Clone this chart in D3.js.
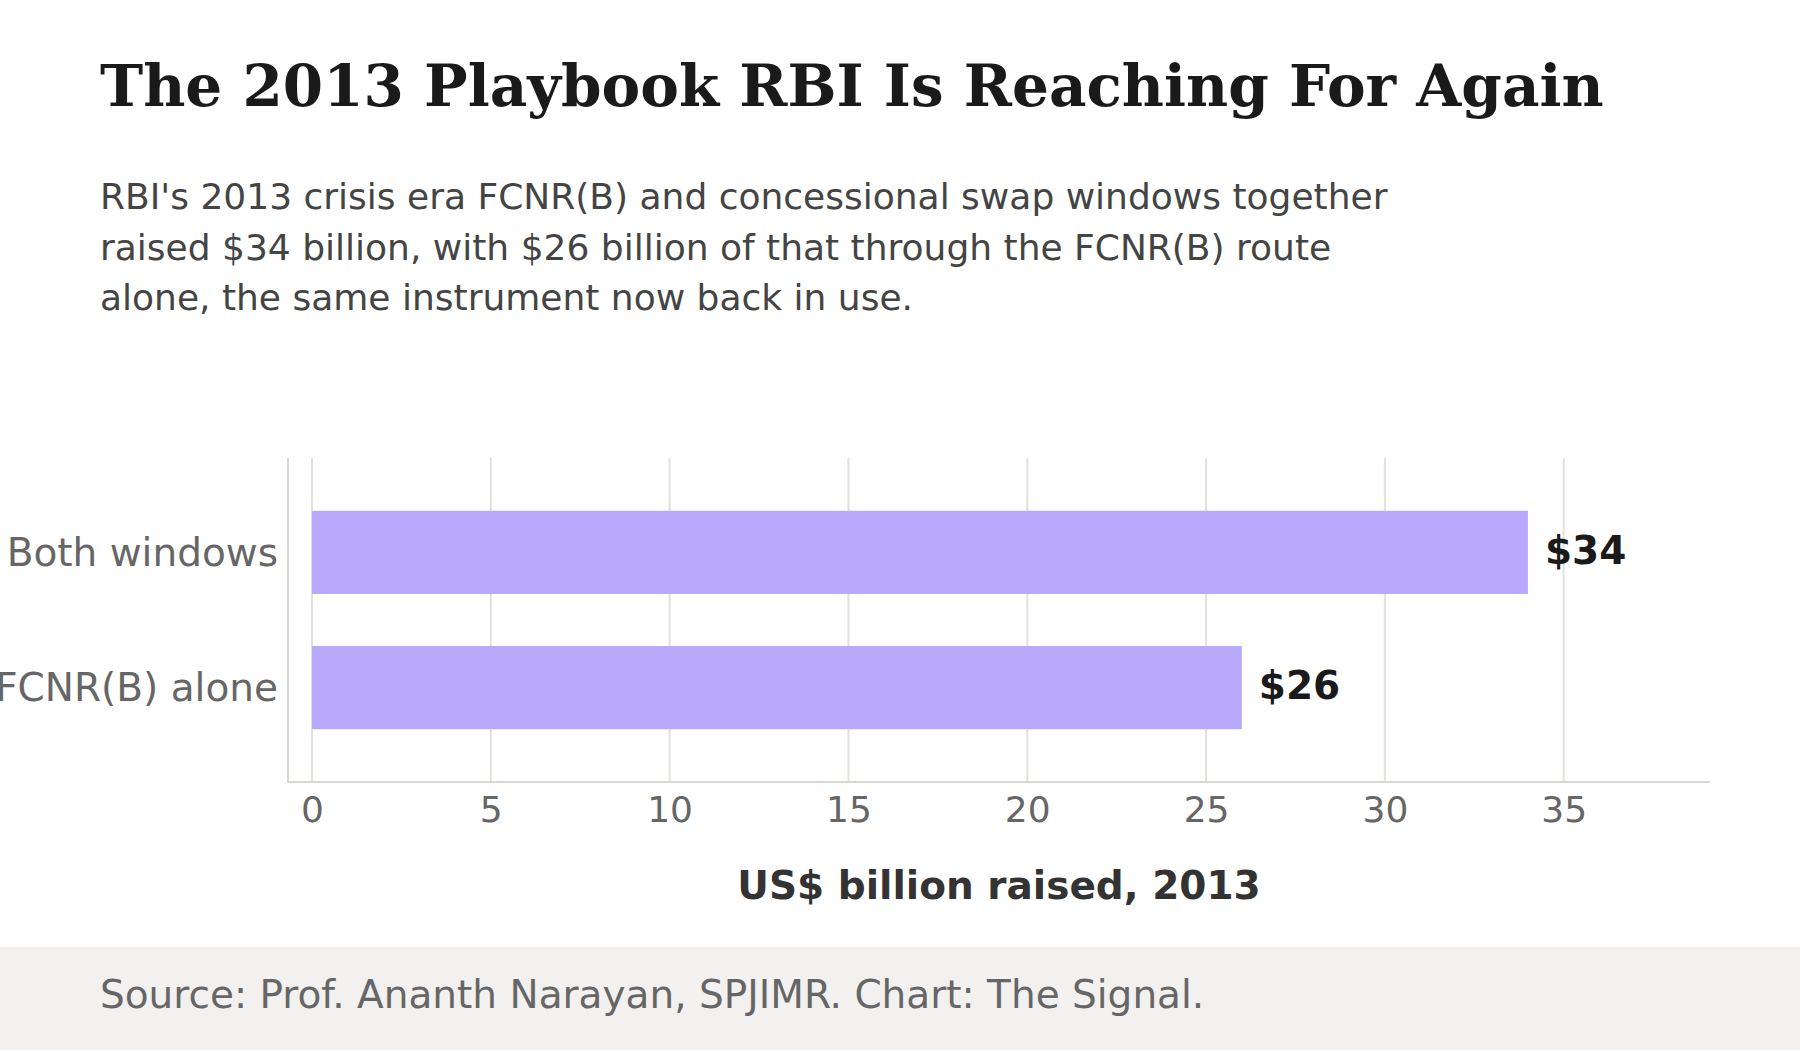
<!DOCTYPE html>
<html>
<head>
<meta charset="utf-8">
<script src="https://cdn.jsdelivr.net/npm/d3@7"></script>
<style>
  html, body { margin: 0; padding: 0; background: #ffffff; }
  svg { display: block; }
</style>
</head>
<body>
<script>
const categories = ["Both windows", "FCNR(B) alone"];
const values = [34, 26];
const valueLabels = ["$34", "$26"];
const xTicks = [0, 5, 10, 15, 20, 25, 30, 35];
const titleText = "The 2013 Playbook RBI Is Reaching For Again";
const subtitleLines = [
  "RBI's 2013 crisis era FCNR(B) and concessional swap windows together",
  "raised $34 billion, with $26 billion of that through the FCNR(B) route",
  "alone, the same instrument now back in use."
];
const axisTitle = "US$ billion raised, 2013";
const sourceText = "Source: Prof. Ananth Narayan, SPJIMR. Chart: The Signal.";

const W = 1800, H = 1050;
const svg = d3.select("body").append("svg").attr("width", W).attr("height", H);
const sans = "'DejaVu Sans', sans-serif";

svg.append("rect").attr("width", W).attr("height", H).attr("fill", "#ffffff");

// Title
svg.append("text").attr("x", 100).attr("y", 106)
  .attr("font-family", "'DejaVu Serif', serif").attr("font-weight", "bold")
  .attr("font-size", 58).attr("fill", "#1a1a1a").text(titleText);

// Subtitle
svg.append("g").selectAll("text").data(subtitleLines).join("text")
  .attr("x", 100).attr("y", (d, i) => 209 + i * 50.5)
  .attr("font-family", sans).attr("font-size", 36).attr("fill", "#444444")
  .text(d => d);

// Plot
const plotLeft = 288, plotRight = 1710, plotTop = 458, plotBottom = 782;
const x = d3.scaleLinear().domain([0, 38.42]).range([312, 1686]);
const y = d3.scaleBand().domain(categories).range([plotTop, plotBottom])
  .paddingInner(0.385).paddingOuter(0.39);

// gridlines
svg.append("g").selectAll("line").data(xTicks).join("line")
  .attr("x1", d => x(d)).attr("x2", d => x(d))
  .attr("y1", plotTop).attr("y2", plotBottom)
  .attr("stroke", "#e2e1dc").attr("stroke-width", 2);

// axis lines
svg.append("line").attr("x1", plotLeft).attr("x2", plotLeft)
  .attr("y1", plotTop).attr("y2", plotBottom + 1)
  .attr("stroke", "#d8d7d1").attr("stroke-width", 2);
svg.append("line").attr("x1", plotLeft).attr("x2", plotRight)
  .attr("y1", plotBottom).attr("y2", plotBottom)
  .attr("stroke", "#d8d7d1").attr("stroke-width", 2);

// x axis tick labels
const xAxis = d3.axisBottom(x).tickValues(xTicks).tickSize(0).tickPadding(0);
const gx = svg.append("g").attr("transform", `translate(0,${plotBottom})`).call(xAxis);
gx.select(".domain").remove();
gx.selectAll("text")
  .attr("y", 40).attr("dy", 0)
  .attr("font-family", sans).attr("font-size", 36).attr("fill", "#666666");

// y axis labels
const yAxis = d3.axisLeft(y).tickSize(0).tickPadding(0);
const gy = svg.append("g").attr("transform", `translate(278,0)`).call(yAxis);
gy.select(".domain").remove();
gy.selectAll("text")
  .attr("x", 0).attr("dy", "0.35em")
  .attr("font-family", sans).attr("font-size", 39).attr("fill", "#666666");

// bars
svg.append("g").selectAll("rect").data(values).join("rect")
  .attr("x", x(0)).attr("y", (d, i) => y(categories[i]))
  .attr("width", d => x(d) - x(0)).attr("height", y.bandwidth())
  .attr("fill", "#b8a9fd");

// value labels
svg.append("g").selectAll("text").data(values).join("text")
  .attr("x", d => x(d) + 17).attr("y", (d, i) => y(categories[i]) + y.bandwidth() / 2)
  .attr("dy", "0.3em")
  .attr("font-family", sans).attr("font-weight", "bold").attr("font-size", 39)
  .attr("fill", "#1a1a1a").text((d, i) => valueLabels[i]);

// axis title
svg.append("text").attr("x", (plotLeft + plotRight) / 2).attr("y", 899)
  .attr("text-anchor", "middle")
  .attr("font-family", sans).attr("font-weight", "bold").attr("font-size", 39)
  .attr("fill", "#333333").text(axisTitle);

// footer
svg.append("rect").attr("x", 0).attr("y", 947).attr("width", W).attr("height", H - 947)
  .attr("fill", "#f2f1ef");
svg.append("text").attr("x", 100).attr("y", 1008)
  .attr("font-family", sans).attr("font-size", 39).attr("fill", "#666666")
  .text(sourceText);
</script>
</body>
</html>
